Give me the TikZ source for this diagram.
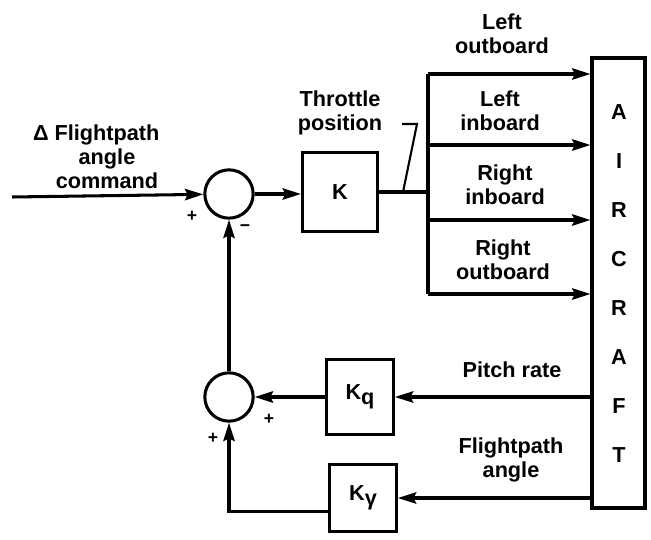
\documentclass[tikz,border=0pt]{standalone}
\usepackage{fontspec}
\setmainfont{Liberation Sans}
\usetikzlibrary{arrows.meta, positioning, calc}
\tikzset{
  block/.style={rectangle, draw, line width=2.6pt, align=center, inner sep=0pt},
  summer/.style={circle, draw, line width=2.6pt, minimum size=1.45cm, inner sep=0pt},
  lbl/.style={align=center, inner sep=1pt},
  sgn/.style={font=\fontsize{15}{15}\selectfont\bfseries, inner sep=0pt},
  sig/.style={-{Stealth[length=5.5mm, width=3.4mm, inset=0.8mm]}, line width=2.6pt},
  wire/.style={line width=2.6pt},
}
\newcommand{\sub}[1]{\raisebox{-0.45ex}{#1}}

\begin{document}
\begin{tikzpicture}[x=0.03cm, y=-0.03cm, font=\fontsize{18.5}{20.5}\selectfont\bfseries]
\useasboundingbox (0,0) rectangle (651,540);
% forward path
\coordinate (cmd) at (12,197);
\node[summer] (sum1) at (229,194) {};
\node[block, minimum width=2.25cm, minimum height=2.37cm] (gain) at (340,192) {K};
\node[block, minimum width=1.59cm, minimum height=13.5cm] (plant) at (618.5,283) {};
\foreach \c [count=\i] in {A,I,R,C,R,A,F,T}
  \node at (619,{112+49*(\i-1)}) {\c};
\draw[sig] (cmd) -- (sum1);
\draw[sig] (sum1.east) -- (gain.west |- sum1.east);
\node[lbl] (cmdlbl) at (107,157) {\llap{Δ\ }Flightpath\\angle\\command};
\node[sgn] at (192,216) {+};
\node[sgn] at (245,228) {−};
% engines
\coordinate (bus) at (428,192);
\draw[wire] (gain.east |- bus) -- (bus);
\draw[wire] (bus |- 0,74) -- (bus |- 0,294);
\foreach \y in {74,145,220,294}
  \draw[sig] (bus |- 0,\y) -- (plant.west |- 0,\y);
\node[lbl] (lout) at (502,34) {Left\\outboard};
\node[lbl] (lin) at (500,111) {Left\\inboard};
\node[lbl] (rin) at (505,185) {Right\\inboard};
\node[lbl] (rout) at (503,260) {Right\\outboard};
\node[lbl] (thr) at (340,113) {Throttle\\position};
\coordinate (tp) at (403,192);
\draw[line width=1.8pt] (402,124) -- (417,124) -- (tp);
% feedback
\node[summer] (sum2) at (229,397) {};
\node[block, minimum width=2cm, minimum height=2.25cm] (kq) at (360,397) {K\sub{q}};
\node[block, minimum width=2cm, minimum height=2cm] (kg) at (363,498) {K\sub{γ}};
\draw[sig] (plant.west |- kq.east) -- (kq.east);
\draw[sig] (kq) -- (sum2);
\draw[sig] (plant.west |- kg.east) -- (kg.east);
\draw[sig] ([yshift=-0.4cm]kg.west) -| (sum2);
\draw[sig] (sum2) -- (sum1);
\node[lbl] (pq) at (512,370) {Pitch rate};
\node[lbl] (fpa) at (511,460) {Flightpath\\angle};
\node[sgn] at (269,419) {+};
\node[sgn] at (213,438) {+};
\end{tikzpicture}
\end{document}
